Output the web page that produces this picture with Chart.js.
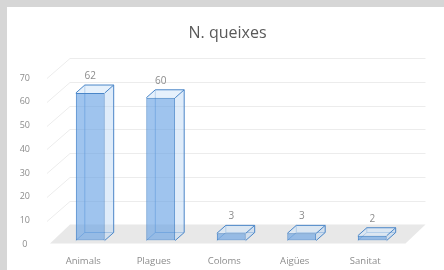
<!DOCTYPE html>
<html>
<head>
<meta charset="utf-8">
<script src="https://cdn.jsdelivr.net/npm/chart.js@4"></script>
<style>
  html, body { margin: 0; padding: 0; }
  body { width: 444px; height: 270px; background: #d6d6d6; overflow: hidden; position: relative; }
  #wrap { position: absolute; left: 7px; top: 7px; width: 437px; height: 263px; background: #fff; }
</style>
</head>
<body>
<div id="wrap"><canvas id="queixesChart" width="437" height="263"></canvas></div>
<script>
const chartTitle = 'N. queixes';
const categories = ['Animals', 'Plagues', 'Coloms', 'Aigües', 'Sanitat'];
const queixes = [62, 60, 3, 3, 2];
const yTicks = [0, 10, 20, 30, 40, 50, 60, 70];

const FONT = '"Open Sans", sans-serif';
const DX = 9, DY = -8; // depth of the bars

const threeD = {
    id: 'threeD',
    beforeDatasetsDraw(chart) {
        const {ctx, chartArea: a, scales: {y}} = chart;
        const y0 = y.getPixelForValue(0);
        ctx.save();
        // floor
        ctx.fillStyle = '#e8e8e8';
        ctx.beginPath();
        ctx.moveTo(a.left - 5, y0 + 3);
        ctx.lineTo(a.right - 2, y0 + 3);
        ctx.lineTo(a.right + 18, y0 - 16);
        ctx.lineTo(a.left + 15, y0 - 16);
        ctx.closePath();
        ctx.fill();
        // side wall + back wall gridlines
        ctx.strokeStyle = '#ececec';
        ctx.lineWidth = 1;
        yTicks.forEach(v => {
            if (v === 0) return;
            const py = Math.round(y.getPixelForValue(v)) + 0.5;
            ctx.beginPath();
            ctx.moveTo(a.left - 8, py + 4);
            ctx.lineTo(a.left + 15, py - 16);
            ctx.lineTo(a.right + 18, py - 16);
            ctx.stroke();
        });
        // back, side and top faces of the bars
        chart.getDatasetMeta(0).data.forEach(bar => {
            const l = bar.x - bar.width / 2, r = bar.x + bar.width / 2, t = bar.y, b = bar.base;
            // hidden edges
            ctx.strokeStyle = 'rgba(74,134,200,0.55)';
            ctx.beginPath();
            ctx.moveTo(l + DX, t + DY);
            ctx.lineTo(l + DX, b + DY);
            ctx.lineTo(r + DX, b + DY);
            ctx.moveTo(l, b);
            ctx.lineTo(l + DX, b + DY);
            ctx.stroke();
            // right side
            ctx.fillStyle = 'rgba(185,212,244,0.45)';
            ctx.beginPath();
            ctx.moveTo(r, b);
            ctx.lineTo(r + DX, b + DY);
            ctx.lineTo(r + DX, t + DY);
            ctx.lineTo(r, t);
            ctx.closePath();
            ctx.fill();
            // top
            ctx.fillStyle = 'rgba(210,229,250,0.55)';
            ctx.beginPath();
            ctx.moveTo(l, t);
            ctx.lineTo(r, t);
            ctx.lineTo(r + DX, t + DY);
            ctx.lineTo(l + DX, t + DY);
            ctx.closePath();
            ctx.fill();
            ctx.strokeStyle = '#4a86c8';
            ctx.beginPath();
            ctx.moveTo(l, t);
            ctx.lineTo(l + DX, t + DY);
            ctx.lineTo(r + DX, t + DY);
            ctx.lineTo(r + DX, b + DY);
            ctx.lineTo(r, b);
            ctx.moveTo(r, t);
            ctx.lineTo(r + DX, t + DY);
            ctx.stroke();
        });
        ctx.restore();
    },
    afterDatasetsDraw(chart) {
        const {ctx} = chart;
        ctx.save();
        ctx.fillStyle = '#8c8c8c';
        ctx.font = '10px ' + FONT;
        ctx.textAlign = 'center';
        ctx.textBaseline = 'middle';
        chart.getDatasetMeta(0).data.forEach((bar, i) => {
            ctx.fillText(String(queixes[i]), bar.x, bar.y + DY - 9);
        });
        // title, centred on the whole panel
        ctx.fillStyle = '#595959';
        ctx.font = '16px ' + FONT;
        ctx.fillText(chartTitle, chart.width / 2 + 2, 26);
        ctx.restore();
    }
};

const ctx = document.getElementById('queixesChart').getContext('2d');
new Chart(ctx, {
    type: 'bar',
    data: {
        labels: categories,
        datasets: [{
            label: chartTitle,
            data: queixes,
            backgroundColor: 'rgba(100,160,228,0.62)',
            borderColor: '#4a86c8',
            borderWidth: 1,
            borderSkipped: false,
            barPercentage: 0.41,
            categoryPercentage: 1
        }]
    },
    options: {
        responsive: false,
        animation: false,
        layout: { padding: { left: 0, right: 36.5, top: 67, bottom: 0 } },
        plugins: {
            legend: { display: false },
            tooltip: { enabled: false },
            title: { display: false }
        },
        scales: {
            x: {
                grid: { display: false },
                border: { display: false },
                ticks: {
                    color: '#8c8c8c',
                    font: { family: FONT, size: 9.5 },
                    labelOffset: -7,
                    padding: 7,
                    maxRotation: 0
                },
                afterFit: s => { s.height = 29.5; }
            },
            y: {
                min: 0,
                max: 70,
                grid: { display: false },
                border: { display: false },
                afterBuildTicks: s => { s.ticks = yTicks.map(v => ({ value: v })); },
                ticks: {
                    color: '#8c8c8c',
                    font: { family: FONT, size: 9 },
                    crossAlign: 'center',
                    padding: 17,
                    labelOffset: 4
                },
                afterFit: s => { s.width = 48; }
            }
        }
    },
    plugins: [threeD]
});
</script>
</body>
</html>
